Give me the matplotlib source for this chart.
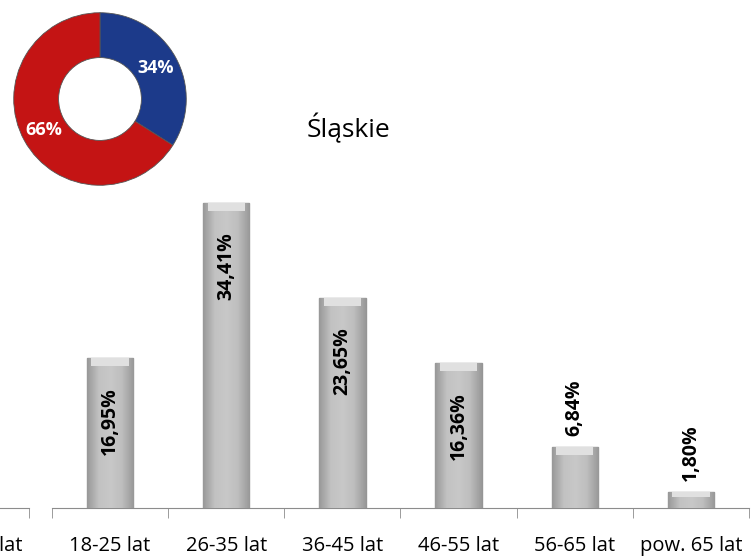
import matplotlib
matplotlib.use("Agg")
import matplotlib.pyplot as plt
from matplotlib.colors import LinearSegmentedColormap
import numpy as np

plt.rcParams['font.family'] = ['Open Sans', 'DejaVu Sans']

# age groups and shares (%)
categories = ['18-25 lat', '26-35 lat', '36-45 lat', '46-55 lat', '56-65 lat', 'pow. 65 lat']
values = [16.95, 34.41, 23.65, 16.36, 6.84, 1.80]
labels = ['16,95%', '34,41%', '23,65%', '16,36%', '6,84%', '1,80%']

# gender split for the donut
pie_values = [34, 66]
pie_labels = ['34%', '66%']
pie_colors = ['#1c3a8a', '#c41414']

title = 'Śląskie'

W, H = 756, 560
fig = plt.figure(figsize=(W / 100, H / 100), dpi=100)

def px(l, t, w, h):
    # pixel box (left, top, width, height) -> figure fraction
    return [l / W, (H - t - h) / H, w / W, h / H]

scale = 8.87  # px per percent
ax = fig.add_axes(px(52, 508 - 40 * scale, 697, 40 * scale))
x = np.arange(len(categories))
bars = ax.bar(x, values, width=0.4, color='#b4b4b4', edgecolor='#959595', linewidth=1.0, zorder=2)

# grey gradient across each bar, like the bevelled office look
cmap = LinearSegmentedColormap.from_list('bev', ['#999999', '#c2c2c2', '#c8c8c8', '#bebebe', '#999999'])
grad = np.linspace(0, 1, 64).reshape(1, -1)
for b in bars:
    x0, w, h = b.get_x(), b.get_width(), b.get_height()
    im = ax.imshow(grad, cmap=cmap, extent=[x0, x0 + w, 0, h], aspect='auto', zorder=3)
    im.set_clip_path(b)
    cap = min(0.9, h * 0.3)
    ax.bar(x0 + w / 2, cap, bottom=h - cap, width=w * 0.8, color='#e0e0e0', linewidth=0, zorder=4)

for xi, v, lab in zip(x, values, labels):
    if v > 10:
        ax.text(xi, v - 3.3, lab, rotation=90, ha='center', va='top',
                fontsize=14, fontweight='bold', color='black', zorder=5)
    else:
        ax.text(xi, v + 1.3, lab, rotation=90, ha='center', va='bottom',
                fontsize=14, fontweight='bold', color='black', zorder=5)

ax.set_xlim(-0.5, len(categories) - 0.5)
ax.set_ylim(0, 40)
ax.set_yticks([])
for s in ['left', 'right', 'top']:
    ax.spines[s].set_visible(False)
ax.spines['bottom'].set_color('#8c8c8c')
ax.set_xticks(x)
ax.set_xticklabels(categories, fontsize=14.5)
ax.tick_params(axis='x', length=0, pad=20)
ax.set_xticks(np.arange(-0.5, len(categories)), minor=True)
ax.tick_params(axis='x', which='minor', length=7, color='#8c8c8c')

# neighbouring chart, only its right end is visible
ax0 = fig.add_axes(px(29 - 697, 508 - 40 * scale, 697, 40 * scale))
ax0.set_xlim(-0.5, len(categories) - 0.5)
ax0.set_ylim(0, 40)
ax0.set_yticks([])
for s in ['left', 'right', 'top']:
    ax0.spines[s].set_visible(False)
ax0.spines['bottom'].set_color('#8c8c8c')
ax0.set_xticks(x)
ax0.set_xticklabels(categories, fontsize=14.5)
ax0.tick_params(axis='x', length=0, pad=20)
ax0.set_xticks(np.arange(-0.5, len(categories)), minor=True)
ax0.tick_params(axis='x', which='minor', length=7, color='#8c8c8c')
ax0.patch.set_visible(False)

fig.text(348 / W, 1 - 128 / H, title, fontsize=19, ha='center', va='center')

# donut
axp = fig.add_axes(px(12, 11, 176, 176))
wedges, _ = axp.pie(pie_values, colors=pie_colors, startangle=90, counterclock=False,
                    radius=1.0, wedgeprops=dict(width=0.52, edgecolor='#555555', linewidth=0.6))
for w, lab in zip(wedges, pie_labels):
    ang = np.deg2rad((w.theta1 + w.theta2) / 2)
    r = 0.74
    axp.text(r * np.cos(ang), r * np.sin(ang), lab, ha='center', va='center',
             color='white', fontsize=13, fontweight='bold')
axp.set_xlim(-1.02, 1.02)
axp.set_ylim(-1.02, 1.02)
axp.set_aspect('equal')
axp.axis('off')

fig.savefig('out.png', dpi=100)
